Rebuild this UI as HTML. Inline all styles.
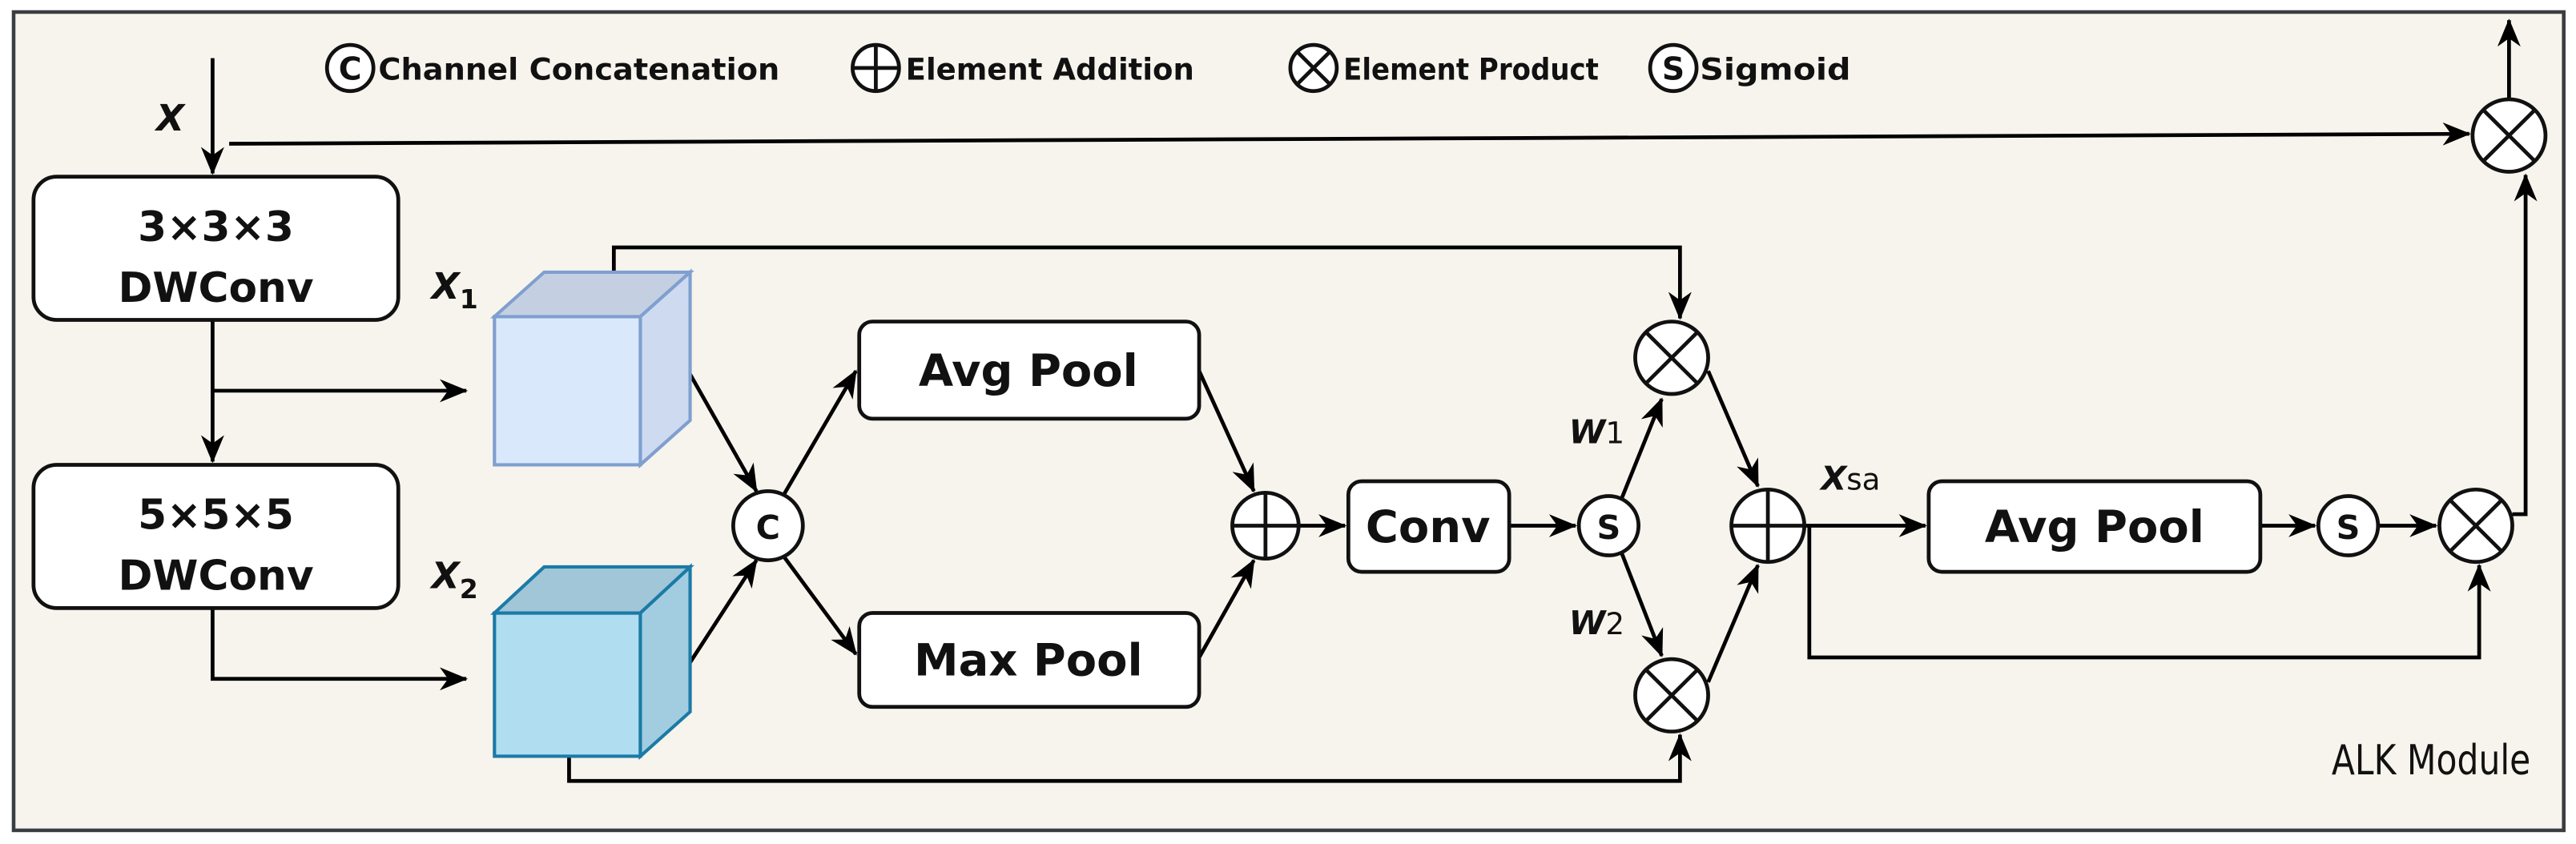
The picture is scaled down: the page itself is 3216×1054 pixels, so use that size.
<!DOCTYPE html>
<html><head><meta charset="utf-8"><style>
html,body{margin:0;padding:0;background:#fff;}
svg{display:block;}
text{font-family:"DejaVu Sans","Liberation Sans",sans-serif;fill:#111;}
</style></head><body>
<svg width="3216" height="1054" viewBox="1.79 2.7 1553.6 512.6" preserveAspectRatio="none" xmlns="http://www.w3.org/2000/svg">
<defs>
<marker id="a" markerUnits="userSpaceOnUse" markerWidth="17" markerHeight="14" refX="16" refY="7" orient="auto">
<path d="M0,0 L17,7 L0,14 L5,7 Z" fill="#000"/></marker>
</defs>
<rect x="10" y="10" width="1538" height="497" fill="#f7f4ed" stroke="#3a3d42" stroke-width="2.2"/>
<g stroke="#000" stroke-width="2.3" fill="none">
<line x1="130" y1="38" x2="130" y2="108" marker-end="url(#a)"/>
<line x1="140" y1="90" x2="1491" y2="84" marker-end="url(#a)"/>
<line x1="130" y1="197" x2="130" y2="283" marker-end="url(#a)"/>
<polyline points="130,240 283,240" marker-end="url(#a)"/>
<polyline points="130,372 130,415 283,415" marker-end="url(#a)"/>
<line x1="418" y1="230" x2="458" y2="301" marker-end="url(#a)"/>
<line x1="418" y1="405" x2="458" y2="343" marker-end="url(#a)"/>
<line x1="474" y1="304" x2="518" y2="228" marker-end="url(#a)"/>
<line x1="474" y1="340" x2="518" y2="400" marker-end="url(#a)"/>
<line x1="725" y1="228" x2="758" y2="301" marker-end="url(#a)"/>
<line x1="725" y1="402" x2="758" y2="343" marker-end="url(#a)"/>
<line x1="786" y1="322" x2="813" y2="322" marker-end="url(#a)"/>
<line x1="912" y1="322" x2="952" y2="322" marker-end="url(#a)"/>
<line x1="980" y1="305" x2="1004" y2="245" marker-end="url(#a)"/>
<line x1="980" y1="339" x2="1004" y2="401" marker-end="url(#a)"/>
<line x1="1032" y1="228" x2="1062" y2="298" marker-end="url(#a)"/>
<line x1="1032" y1="417" x2="1062" y2="346" marker-end="url(#a)"/>
<line x1="1090" y1="322" x2="1163" y2="322" marker-end="url(#a)"/>
<line x1="1365" y1="322" x2="1398" y2="322" marker-end="url(#a)"/>
<line x1="1436" y1="322" x2="1471" y2="322" marker-end="url(#a)"/>
<polyline points="372,168 372,153 1015,153 1015,196" marker-end="url(#a)"/>
<polyline points="345,462 345,477 1015,477 1015,449" marker-end="url(#a)"/>
<polyline points="1093,322 1093,402 1497,402 1497,346" marker-end="url(#a)"/>
<polyline points="1517,315 1525,315 1525,109" marker-end="url(#a)"/>
<line x1="1515" y1="63" x2="1515" y2="15" marker-end="url(#a)"/>
</g>
<g fill="#fff" stroke="#111" stroke-width="2.3">
<rect x="22" y="110" width="220" height="87" rx="14"/>
<rect x="22" y="285" width="220" height="87" rx="14"/>
<rect x="520" y="198" width="205" height="59" rx="8"/>
<rect x="520" y="375" width="205" height="57" rx="8"/>
<rect x="815" y="295" width="97" height="55" rx="8"/>
<rect x="1165" y="295" width="200" height="55" rx="8"/>
</g>
<g font-weight="bold" font-size="25" text-anchor="middle">
<text x="132" y="149">3×3×3</text>
<text x="132" y="186">DWConv</text>
<text x="132" y="324">5×5×5</text>
<text x="132" y="361">DWConv</text>
<text x="622" y="237" font-size="27">Avg Pool</text>
<text x="622" y="413" font-size="27">Max Pool</text>
<text x="863" y="332" font-size="27">Conv</text>
<text x="1265" y="332" font-size="27">Avg Pool</text>
</g>
<g stroke="#7f9fcf" stroke-width="2">
<rect x="300" y="195" width="88" height="90" fill="#dae8fc"/>
<polygon points="300,195 330,168 418,168 388,195" fill="#c4d0e2"/>
<polygon points="388,195 418,168 418,258 388,285" fill="#cddaf0"/>
</g>
<g stroke="#1b7aa6" stroke-width="2">
<rect x="300" y="375" width="88" height="87" fill="#b1ddf0"/>
<polygon points="300,375 330,347 418,347 388,375" fill="#a0c6d8"/>
<polygon points="388,375 418,347 418,435 388,462" fill="#a2cde0"/>
</g>
<g font-style="italic" font-weight="bold" font-size="22">
<text x="96" y="82">X</text>
<text x="262" y="184">X<tspan font-size="16" dy="6" font-style="normal">1</tspan></text>
<text x="262" y="360">X<tspan font-size="16" dy="6" font-style="normal">2</tspan></text>
<text x="948" y="272" font-size="20">W<tspan font-weight="normal" font-style="normal" font-size="18">1</tspan></text>
<text x="948" y="388" font-size="20">W<tspan font-weight="normal" font-style="normal" font-size="18">2</tspan></text>
<text x="1100" y="300" font-size="20">X<tspan font-weight="normal" font-style="normal" font-size="18">sa</tspan></text>
</g>
<text x="1528" y="473" font-size="25" text-anchor="end" fill="#333" textLength="120" lengthAdjust="spacingAndGlyphs">ALK Module</text>
<g fill="#fff" stroke="#111" stroke-width="2.3">
<circle cx="465" cy="322" r="21"/>
<circle cx="765" cy="322" r="20"/><line x1="745" y1="322" x2="785" y2="322"/><line x1="765" y1="302" x2="765" y2="342"/>
<circle cx="972" cy="322" r="18"/>
<circle cx="1010" cy="220" r="22"/><line x1="994.4" y1="204.4" x2="1025.6" y2="235.6"/><line x1="1025.6" y1="204.4" x2="994.4" y2="235.6"/>
<circle cx="1010" cy="425" r="22"/><line x1="994.4" y1="409.4" x2="1025.6" y2="440.6"/><line x1="1025.6" y1="409.4" x2="994.4" y2="440.6"/>
<circle cx="1068" cy="322" r="22"/><line x1="1046" y1="322" x2="1090" y2="322"/><line x1="1068" y1="300" x2="1068" y2="344"/>
<circle cx="1418" cy="322" r="18"/>
<circle cx="1495" cy="322" r="22"/><line x1="1479.4" y1="306.4" x2="1510.6" y2="337.6"/><line x1="1510.6" y1="306.4" x2="1479.4" y2="337.6"/>
<circle cx="1515" cy="85" r="22"/><line x1="1499.4" y1="69.4" x2="1530.6" y2="100.6"/><line x1="1530.6" y1="69.4" x2="1499.4" y2="100.6"/>
<circle cx="213" cy="44" r="14"/>
<circle cx="530" cy="44" r="14"/><line x1="516" y1="44" x2="544" y2="44"/><line x1="530" y1="30" x2="530" y2="58"/>
<circle cx="794" cy="44" r="14"/><line x1="784" y1="34" x2="804" y2="54"/><line x1="804" y1="34" x2="784" y2="54"/>
<circle cx="1011" cy="44" r="14"/>
</g>
<g font-weight="bold" text-anchor="middle">
<text x="465" y="330" font-size="20">C</text>
<text x="972" y="330" font-size="20">S</text>
<text x="1418" y="330" font-size="20">S</text>
<text x="213" y="51" font-size="19">C</text>
<text x="1011" y="51" font-size="19">S</text>
</g>
<g font-weight="bold" font-size="18">
<text x="230" y="51" textLength="242" lengthAdjust="spacingAndGlyphs">Channel Concatenation</text>
<text x="548" y="51" textLength="174" lengthAdjust="spacingAndGlyphs">Element Addition</text>
<text x="812" y="51" textLength="154" lengthAdjust="spacingAndGlyphs">Element Product</text>
<text x="1027" y="51" textLength="91" lengthAdjust="spacingAndGlyphs">Sigmoid</text>
</g>
</svg>
</body></html>
